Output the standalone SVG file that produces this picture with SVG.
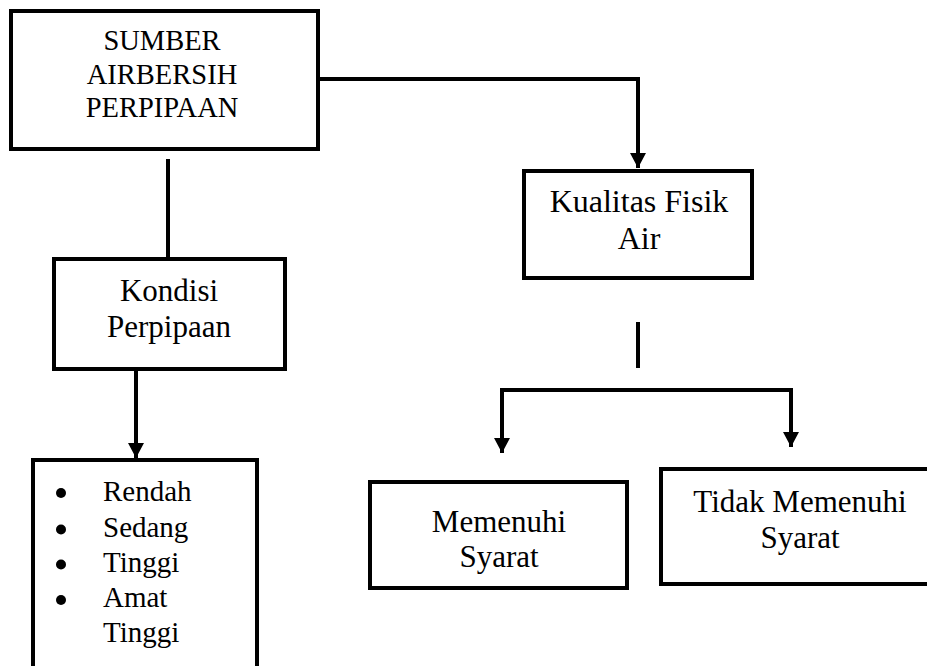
<svg xmlns="http://www.w3.org/2000/svg" width="927" height="666" viewBox="0 0 927 666">
<defs>
<style>
.box{fill:#fff;stroke:#000;stroke-width:4}
.ln{fill:none;stroke:#000;stroke-width:4;stroke-linejoin:miter}
text{font-family:'Liberation Serif','DejaVu Serif',serif;fill:#000}
.t{font-size:31px;text-anchor:middle}
.tk{font-size:32px;text-anchor:middle}
.ts{font-size:28.5px;text-anchor:middle}
.tl{font-size:29px}
</style>
<marker id="arr" markerWidth="16" markerHeight="16" viewBox="0 0 16 16" refX="15" refY="8" orient="auto" markerUnits="userSpaceOnUse">
<path d="M0,0 L15,8 L0,16 Z" fill="#000"/>
</marker>
</defs>
<rect width="927" height="666" fill="#fff"/>
<g id="connectors">
<path class="ln" d="M318,79 H638 V168" marker-end="url(#arr)"/>
<path class="ln" d="M168,159 V258"/>
<path class="ln" d="M136,369 V458" marker-end="url(#arr)"/>
<path class="ln" d="M638,322 V368"/>
<path class="ln" d="M502,453 V390 H791 V447" marker-end="url(#arr)"/>
<path class="ln" d="M502,390 V453" marker-end="url(#arr)"/>
</g>
<g id="sumber">
<rect class="box" x="11" y="11" width="307" height="138"/>
<text class="ts" x="162" y="50">SUMBER</text>
<text class="ts" x="162" y="83.5">AIRBERSIH</text>
<text class="ts" x="162" y="117">PERPIPAAN</text>
</g>
<g id="kualitas">
<rect class="box" x="524" y="171" width="228" height="107"/>
<text class="tk" x="639" y="212">Kualitas Fisik</text>
<text class="tk" x="639" y="249">Air</text>
</g>
<g id="kondisi">
<rect class="box" x="54" y="259" width="231" height="110"/>
<text class="t" x="169" y="300.5">Kondisi</text>
<text class="t" x="169" y="336.5">Perpipaan</text>
</g>
<g id="kategori">
<rect class="box" x="33" y="460" width="224" height="220"/>
<circle cx="61" cy="493" r="5"/>
<circle cx="61" cy="529.5" r="5"/>
<circle cx="61" cy="564.5" r="5"/>
<circle cx="61" cy="600" r="5"/>
<text class="tl" x="103" y="500.5">Rendah</text>
<text class="tl" x="103" y="536.5">Sedang</text>
<text class="tl" x="103" y="571.5">Tinggi</text>
<text class="tl" x="103" y="606.5">Amat</text>
<text class="tl" x="103" y="641.5">Tinggi</text>
</g>
<g id="memenuhi">
<rect class="box" x="370" y="482" width="257" height="106"/>
<text class="t" x="499" y="532">Memenuhi</text>
<text class="t" x="499" y="567">Syarat</text>
</g>
<g id="tidak">
<rect class="box" x="661" y="469" width="280" height="115"/>
<text class="t" x="800" y="512">Tidak Memenuhi</text>
<text class="t" x="800" y="548">Syarat</text>
</g>
</svg>
